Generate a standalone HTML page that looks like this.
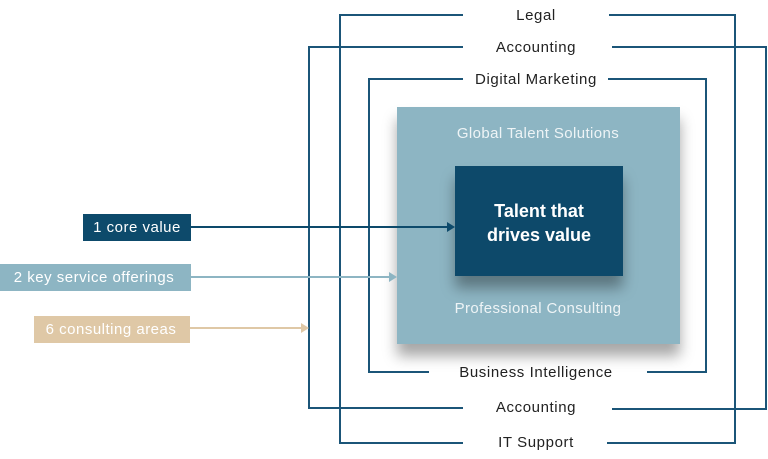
<!DOCTYPE html>
<html><head><style>
body{margin:0;background:#fff;}
svg{display:block;font-family:"Liberation Sans",sans-serif;}
</style></head><body>
<svg width="768" height="459" viewBox="0 0 768 459" xmlns="http://www.w3.org/2000/svg">
<defs>
<filter id="sh" x="-20%" y="-20%" width="140%" height="150%">
<feDropShadow dx="0" dy="12" stdDeviation="7" flood-color="#000" flood-opacity="0.35"/>
</filter>
</defs>
<g fill="none" stroke="#1b5578" stroke-width="2">
<polyline points="463,15 340,15 340,443 463,443"/>
<polyline points="609,15 735,15 735,443 607,443"/>
<polyline points="463,47 309,47 309,408 463,408"/>
<polyline points="612,47 766,47 766,409 612,409"/>
<polyline points="463,79 369,79 369,372 429,372"/>
<polyline points="608,79 706,79 706,372 647,372"/>
</g>
<rect x="397" y="107" width="283" height="237" fill="#8db5c3" filter="url(#sh)"/>
<rect x="455" y="166" width="168" height="110" fill="#0d4a6b" filter="url(#sh)"/>
<g font-size="15" fill="#222" text-anchor="middle" letter-spacing="0.6">
<text x="536" y="20">Legal</text>
<text x="536" y="52">Accounting</text>
<text x="536" y="84">Digital Marketing</text>
<text x="536" y="377">Business Intelligence</text>
<text x="536" y="412">Accounting</text>
<text x="536" y="447">IT Support</text>
</g>
<g font-size="15" fill="#eef4f6" text-anchor="middle" letter-spacing="0.4">
<text x="538" y="138">Global Talent Solutions</text>
<text x="538" y="313">Professional Consulting</text>
</g>
<g font-size="18" font-weight="bold" fill="#fff" text-anchor="middle">
<text x="539" y="217">Talent that</text>
<text x="539" y="241">drives value</text>
</g>
<rect x="83" y="214" width="108" height="27" fill="#0d4a6b"/>
<rect x="0" y="264" width="191" height="27" fill="#8db5c3"/>
<rect x="34" y="316" width="156" height="27" fill="#dfc8a6"/>
<g font-size="15" fill="#fff" text-anchor="middle" letter-spacing="0.5">
<text x="137" y="232">1 core value</text>
<text x="94" y="282">2 key service offerings</text>
<text x="111" y="334">6 consulting areas</text>
</g>
<line x1="191" y1="227" x2="449" y2="227" stroke="#0d4a6b" stroke-width="2"/>
<polygon points="455,227 447,222 447,232" fill="#0d4a6b"/>
<line x1="191" y1="277" x2="391" y2="277" stroke="#8db5c3" stroke-width="2"/>
<polygon points="397,277 389,272 389,282" fill="#8db5c3"/>
<line x1="190" y1="328" x2="303" y2="328" stroke="#dfc8a6" stroke-width="2"/>
<polygon points="309,328 301,323 301,333" fill="#dfc8a6"/>
</svg>
</body></html>
